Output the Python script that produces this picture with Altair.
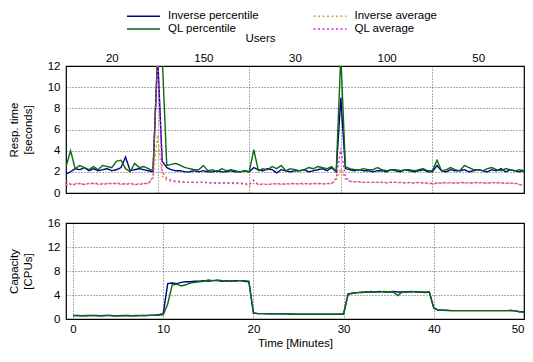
import altair as alt
import pandas as pd

FONT = "Liberation Sans"

# sampling grid (minutes)
time_min = [i * 0.5 for i in range(101)]

# response time (seconds)
inv_percentile = [
    1.8, 2.0, 2.3, 2.2, 2.4, 2.1, 2.3, 2.1, 2.2, 2.3, 2.1, 2.2, 2.4, 3.4, 2.1, 2.2, 2.3, 2.2, 2.1, 2.0,
    13, 3.0, 2.4, 2.2, 2.1, 2.1, 2.0, 2.0, 2.1, 2.0, 2.1, 2.0, 2.0, 2.1, 2.0, 2.0, 2.1, 2.0, 2.0, 2.1,
    2.0, 2.4, 2.2, 2.1, 2.3, 2.2, 1.9, 2.2, 2.1, 2.0, 2.1, 2.1, 2.2, 2.0, 2.1, 2.2, 2.3, 2.1, 2.4, 2.0,
    9.0, 2.3, 2.2, 2.1, 2.2, 2.1, 2.1, 2.0, 2.1, 2.1, 2.0, 2.2, 2.1, 2.0, 2.2, 2.1, 2.0, 2.1, 2.2, 2.0,
    2.0, 2.6, 2.1, 2.0, 2.2, 2.1, 2.1, 2.2, 2.0, 2.1, 2.2, 2.1, 2.0, 2.2, 2.1, 2.3, 2.0, 2.2, 2.1, 2.0, 2.1,
]
ql_percentile = [
    2.5, 4.0, 2.3, 2.6, 2.4, 2.2, 2.5, 2.2, 2.6, 2.5, 2.4, 3.0, 3.1, 2.3, 2.0, 2.8, 2.4, 2.5, 2.3, 2.1,
    13, 13, 2.6, 2.7, 2.8, 2.6, 2.4, 2.3, 2.2, 2.2, 2.6, 2.1, 2.2, 2.0, 2.3, 2.1, 2.2, 2.1, 2.0, 2.1,
    2.0, 4.1, 2.1, 2.3, 2.2, 2.5, 2.3, 2.6, 2.1, 2.3, 2.2, 2.1, 2.2, 2.4, 2.3, 2.5, 2.4, 2.3, 2.5, 2.0,
    13, 2.5, 2.3, 2.2, 2.2, 2.3, 2.2, 2.2, 2.4, 2.2, 2.1, 2.2, 2.2, 2.1, 2.2, 2.2, 2.1, 2.2, 2.3, 2.1,
    2.1, 3.1, 2.1, 2.2, 2.4, 2.2, 2.1, 2.6, 2.4, 2.2, 2.2, 2.1, 2.3, 2.4, 2.2, 2.1, 2.3, 2.2, 2.1, 2.2, 2.1,
]
inv_average = [
    0.8, 0.8, 0.9, 0.9, 0.8, 0.9, 0.9, 0.8, 0.9, 0.9, 0.9, 0.9, 0.8, 0.9, 0.9, 0.8, 0.9, 0.9, 0.9, 1.4,
    5.5, 1.6, 1.2, 1.1, 1.05, 1.0, 1.0, 1.0, 1.0, 1.0, 1.0, 0.95, 0.95, 0.95, 0.9, 0.95, 0.9, 0.9, 0.9, 0.9,
    0.6, 0.9, 0.8, 0.85, 0.8, 0.85, 0.85, 0.8, 0.85, 0.85, 0.9, 0.85, 0.85, 0.9, 0.85, 0.9, 0.9, 0.85, 0.9, 1.2,
    2.3, 1.3, 1.1, 1.05, 1.05, 1.0, 1.0, 1.0, 1.0, 1.0, 1.0, 1.0, 1.0, 0.95, 1.0, 0.95, 0.95, 1.0, 0.95, 0.95,
    0.8, 0.95, 0.95, 0.95, 0.95, 0.95, 1.0, 0.95, 0.95, 1.0, 0.95, 0.95, 0.95, 1.0, 0.95, 0.95, 0.9, 0.95, 0.9, 0.8, 0.75,
]
ql_average = [
    1.2, 0.8, 0.8, 0.9, 0.8, 0.9, 0.9, 0.9, 0.8, 0.9, 0.9, 0.9, 0.9, 0.8, 0.9, 0.8, 0.8, 0.9, 0.9, 1.5,
    13, 2.0, 1.4, 1.2, 1.1, 1.1, 1.0, 1.0, 1.0, 1.0, 1.0, 1.0, 0.95, 0.95, 0.95, 0.95, 0.95, 0.95, 0.9, 0.9,
    0.8, 1.2, 0.8, 0.85, 0.8, 0.85, 0.9, 0.85, 0.85, 0.9, 0.85, 0.9, 0.9, 0.85, 0.9, 0.9, 0.85, 0.9, 0.9, 1.4,
    4.2, 1.5, 1.1, 1.05, 1.05, 1.0, 1.0, 1.0, 1.0, 1.0, 0.95, 1.0, 1.0, 1.0, 0.95, 1.0, 0.95, 1.0, 0.95, 0.95,
    0.9, 0.95, 0.95, 1.0, 0.95, 0.95, 0.95, 1.0, 0.95, 0.95, 1.0, 0.95, 0.95, 0.95, 1.0, 0.95, 0.95, 0.9, 0.95, 0.8, 0.7,
]

# capacity (CPUs)
inv_capacity = [
    0.6, 0.6, 0.55, 0.55, 0.6, 0.6, 0.55, 0.55, 0.6, 0.55, 0.55, 0.55, 0.6, 0.55, 0.55, 0.6, 0.6, 0.6, 0.65, 0.7,
    0.9, 5.9, 6.0, 5.9, 6.1, 6.2, 6.2, 6.3, 6.3, 6.4, 6.3, 6.4, 6.4, 6.3, 6.4, 6.3, 6.4, 6.4, 6.3, 6.2,
    1.0, 0.9, 0.9, 0.9, 0.85, 0.85, 0.85, 0.85, 0.85, 0.8, 0.8, 0.8, 0.8, 0.8, 0.8, 0.8, 0.8, 0.8, 0.8, 0.8,
    0.9, 4.2, 4.3, 4.4, 4.4, 4.5, 4.5, 4.5, 4.6, 4.5, 4.5, 4.6, 4.5, 4.5, 4.5, 4.6, 4.5, 4.5, 4.4, 4.5,
    1.8, 1.45, 1.45, 1.45, 1.4, 1.4, 1.4, 1.4, 1.4, 1.4, 1.4, 1.4, 1.4, 1.4, 1.4, 1.4, 1.4, 1.4, 1.35, 1.2, 1.2,
]
ql_capacity = [
    0.55, 0.55, 0.55, 0.6, 0.55, 0.55, 0.55, 0.6, 0.6, 0.55, 0.55, 0.6, 0.55, 0.55, 0.6, 0.55, 0.55, 0.6, 0.6, 0.65,
    0.7, 2.5, 5.7, 5.8, 5.5, 5.7, 6.0, 6.1, 6.2, 6.3, 6.5, 6.4, 6.5, 6.4, 6.3, 6.4, 6.3, 6.4, 6.4, 6.3,
    1.0, 0.9, 0.9, 0.85, 0.85, 0.85, 0.85, 0.85, 0.8, 0.8, 0.8, 0.8, 0.8, 0.8, 0.8, 0.8, 0.8, 0.8, 0.8, 0.8,
    0.8, 4.1, 4.3, 4.4, 4.5, 4.5, 4.6, 4.5, 4.5, 4.6, 4.5, 4.5, 3.9, 4.5, 4.5, 4.5, 4.6, 4.5, 4.5, 4.5,
    1.9, 1.5, 1.45, 1.4, 1.4, 1.4, 1.4, 1.4, 1.4, 1.4, 1.4, 1.4, 1.4, 1.4, 1.4, 1.4, 1.4, 1.45, 1.35, 1.2, 1.15,
]

# top axis: users per 10-minute phase
user_positions = [5, 15, 25, 35, 45]
user_labels = ["20", "150", "30", "100", "50"]

# legend fills column by column: col 1 = percentiles, col 2 = averages
series_names = ["Inverse percentile", "QL percentile", "Inverse average", "QL average"]
series_colors = ["#00008b", "#0a6a0a", "#daa520", "#e020e0"]
series_dashes = [[1, 0], [1, 0], [2, 2.5], [2, 2.5]]

resp_rows = []
for name, vals in zip(series_names, [inv_percentile, ql_percentile, inv_average, ql_average]):
    for t, v in zip(time_min, vals):
        resp_rows.append({"t": t, "v": v, "series": name})
resp = pd.DataFrame(resp_rows)

cap_rows = []
for name, vals in zip(["Inverse percentile", "QL percentile"], [inv_capacity, ql_capacity]):
    for t, v in zip(time_min, vals):
        cap_rows.append({"t": t, "v": v, "series": name})
cap = pd.DataFrame(cap_rows)

label_expr = " : ".join(
    f"datum.value == {p} ? '{l}'" for p, l in zip(user_positions, user_labels)
) + " : ''"

color_scale = alt.Scale(domain=series_names, range=series_colors)
dash_scale = alt.Scale(domain=series_names, range=series_dashes)
legend = alt.Legend(
    orient="none", legendX=70.5, legendY=-57, columns=2, title=None,
    symbolType="M-2.75,0L2.75,0", symbolSize=144, symbolStrokeWidth=1.5,
    labelOffset=17.5, columnPadding=50.5, rowPadding=0,
    labelFont=FONT, labelFontSize=11.5, labelColor="black",
)

W_TOP = 458
x_top = alt.Scale(domain=[0, 50], nice=False)
y_top = alt.Scale(domain=[0, 12], nice=False)
y_axis_top = alt.Axis(
    values=[0, 2, 4, 6, 8, 10, 12], ticks=False, domain=False, grid=True,
    labelPadding=6, title=["Resp. time", "[seconds]"], titlePadding=14)

grid_layer = alt.Chart(resp).mark_line(opacity=0).encode(
    x=alt.X("t:Q", scale=x_top, axis=alt.Axis(
        orient="bottom", values=[10, 20, 30, 40], labels=False, ticks=False,
        domain=False, grid=True, title=None)),
    y=alt.Y("v:Q", scale=y_top, axis=y_axis_top),
)

lines_top = alt.Chart(resp).mark_line(clip=True, strokeWidth=1.4).encode(
    x=alt.X("t:Q", scale=x_top, axis=alt.Axis(
        orient="top", values=user_positions, labelExpr=label_expr, ticks=False,
        domain=False, grid=False, title="Users", titleX=194,
        labelPadding=3, titlePadding=9)),
    y=alt.Y("v:Q", scale=y_top, axis=y_axis_top),
    color=alt.Color("series:N", scale=color_scale, legend=legend, sort=series_names),
    strokeDash=alt.StrokeDash("series:N", scale=dash_scale, legend=legend, sort=series_names),
)

top = alt.layer(grid_layer, lines_top).resolve_axis(x="independent").properties(
    width=W_TOP, height=127)

bottom = alt.Chart(cap).mark_line(clip=True, strokeWidth=1.4).encode(
    x=alt.X("t:Q", scale=alt.Scale(domain=[-0.776, 50], nice=False), axis=alt.Axis(
        values=[0, 10, 20, 30, 40, 50], ticks=False, domain=False, grid=True,
        labelFlush=True, title="Time [Minutes]", labelPadding=4, titlePadding=3)),
    y=alt.Y("v:Q", scale=alt.Scale(domain=[0, 16], nice=False), axis=alt.Axis(
        values=[0, 4, 8, 12, 16], ticks=False, domain=False, grid=True,
        labelPadding=6, title=["Capacity", "[CPUs]"], titlePadding=14)),
    color=alt.Color("series:N", scale=color_scale, legend=None),
).properties(width=W_TOP, height=96)

chart = alt.vconcat(top, bottom, spacing=16).resolve_scale(
    color="independent", strokeDash="independent"
).properties(
    padding={"left": 0, "top": 0, "right": 0, "bottom": 0}
).configure_view(
    stroke="black", strokeWidth=1.2
).configure_axis(
    labelFont=FONT, titleFont=FONT, labelFontSize=11.5, titleFontSize=11.5,
    titleFontWeight="normal", labelColor="black", titleColor="black",
    gridColor="black", gridDash=[1, 2], gridOpacity=0.8, gridWidth=0.8,
)

chart.save("out.html", embed_options={"renderer": "svg", "actions": False})
